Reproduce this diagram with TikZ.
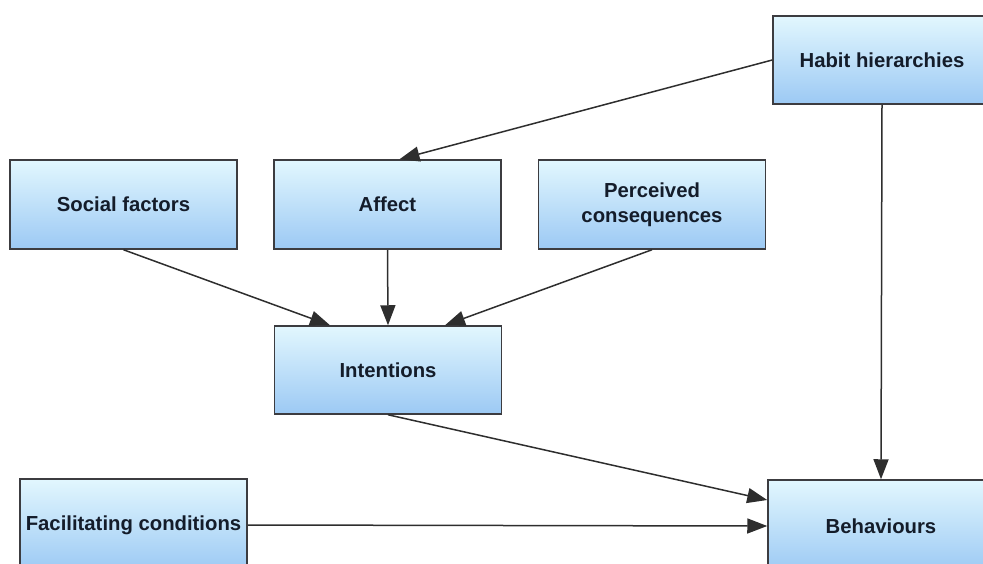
\documentclass[tikz,border=0pt]{standalone}
\usepackage{fontspec}
\setmainfont{Liberation Sans}
\usetikzlibrary{arrows.meta}
\definecolor{boxtop}{HTML}{E2F7FE}
\definecolor{boxbottom}{HTML}{9CC9F4}
\definecolor{boxline}{HTML}{3C3C40}
\definecolor{boxtext}{HTML}{141C2A}
\definecolor{wire}{HTML}{2E2E2E}
\begin{document}
\begin{tikzpicture}[x=1pt,y=-1pt,
  factor/.style={draw=boxline, line width=1.5pt, top color=boxtop, bottom color=boxbottom,
    minimum width=227pt, minimum height=89pt, inner sep=0pt, align=center,
    text=boxtext, font=\fontsize{20.3}{25}\selectfont\bfseries},
  link/.style={draw=wire, line width=1.5pt, -{Triangle[length=20pt,width=15pt]}}]
  \useasboundingbox (0,0) rectangle (983,563);
  % model factors
  \node[factor, minimum width=218pt, minimum height=88pt] (habit) at (882,60) {Habit hierarchies};
  \node[factor] (social) at (123.5,204.5) {Social factors};
  \node[factor] (affect) at (387.5,204.5) {Affect};
  \node[factor] (conseq) at (652,204.5) {Perceived\\consequences};
  \node[factor, minimum height=88pt] (intent) at (388,370) {Intentions};
  \node[factor, minimum height=92pt] (facil) at (133.5,525) {Facilitating conditions};
  \node[factor, minimum width=226pt, minimum height=92pt] (behav) at (881,526) {Behaviours};
  % influences
  \draw[link] (habit.west) -- ([xshift=12pt]affect.north);
  \draw[link] (habit.south) -- (behav.north);
  \draw[link] (social.south) -- ([xshift=-58pt]intent.north);
  \draw[link] (affect.south) -- (intent.north);
  \draw[link] (conseq.south) -- ([xshift=57pt]intent.north);
  \draw[link] (intent.south) -- ([yshift=26pt]behav.west);
  \draw[link] (facil.east) -- (behav.west);
\end{tikzpicture}
\end{document}
